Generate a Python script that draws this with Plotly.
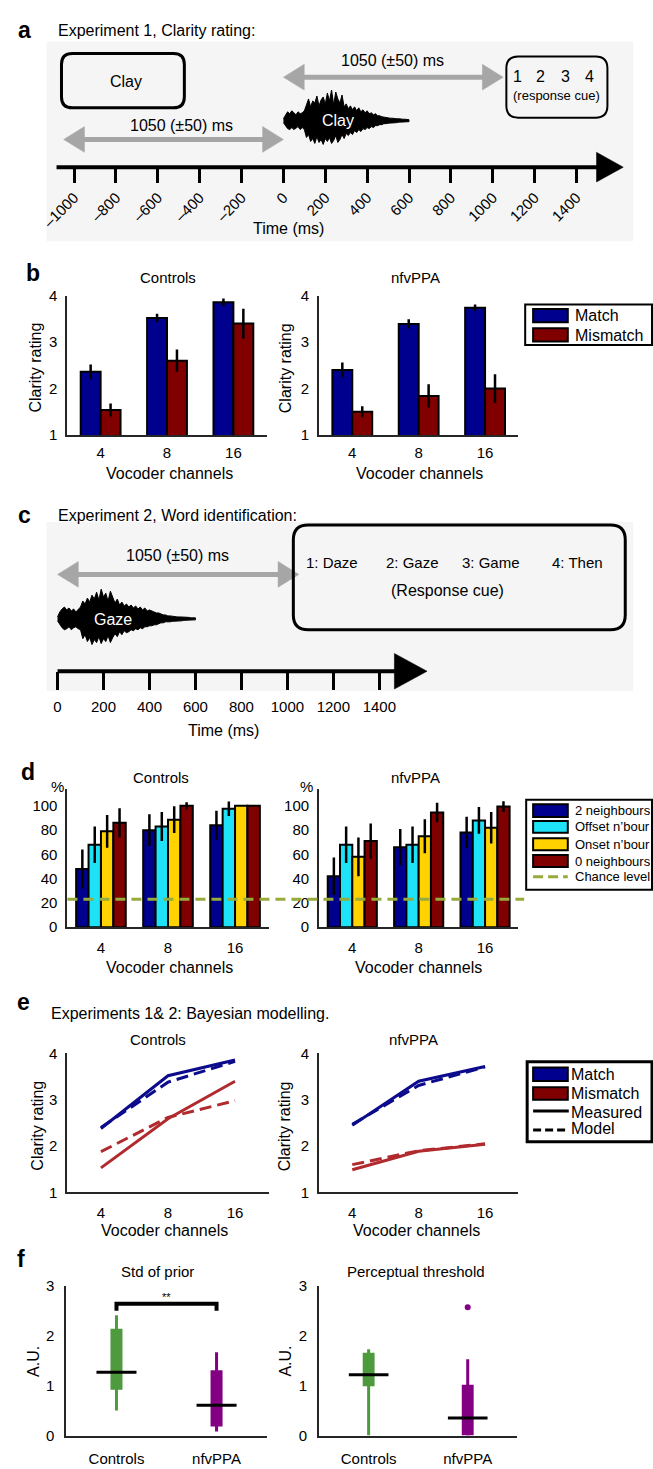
import plotly.graph_objects as go

W, H = 653, 1469
FONT = "Liberation Sans, Arial, Helvetica, sans-serif"

# ======================= DATA =======================
# Panel a / c schematic timelines (ms)
a_tick_ms = [-1000, -800, -600, -400, -200, 0, 200, 400, 600, 800, 1000, 1200, 1400]
a_tick_text = ["–1000", "–800", "–600", "–400", "–200", "0", "200", "400",
               "600", "800", "1000", "1200", "1400"]
c_tick_ms = [0, 200, 400, 600, 800, 1000, 1200, 1400]
c_tick_text = ["0", "200", "400", "600", "800", "1000", "1200", "1400"]
isi_ms = 1050

# sound-wave envelopes (time in ms, amplitude in px)
wave_t = [0, 10, 20, 30, 40, 50, 60, 70, 80, 90, 100,
          110, 120, 130, 140, 150, 160, 170, 180, 190, 200,
          210, 220, 230, 240, 250, 260, 270, 280, 290, 300,
          310, 320, 330, 340, 350, 360, 370, 380, 390, 400,
          410, 420, 430, 440, 450, 460, 470, 480, 490, 500,
          510, 520, 530, 540, 550, 560, 570, 580, 590, 600]
wave_a_up = [2, 6, 9, 7, 10, 8, 6, 9, 7, 8, 10,
             16, 22, 14, 20, 18, 25, 15, 21, 24, 17,
             28, 20, 31, 16, 29, 22, 18, 26, 14, 17,
             12, 15, 11, 14, 10, 13, 9, 11, 8, 10,
             7, 8, 6, 7, 5, 5, 4, 3.5, 3, 3,
             2.5, 2.5, 2, 2, 2, 1.5, 1.5, 1.5, 1, 1]
wave_a_lo = [2, 5, 8, 9, 7, 9, 8, 6, 9, 7, 9,
             17, 14, 21, 18, 23, 16, 22, 19, 24, 18,
             21, 17, 23, 20, 15, 22, 19, 14, 18, 13,
             15, 12, 14, 10, 12, 9, 11, 8, 9, 7,
             8, 6, 7, 5, 5, 4, 4, 3, 3, 2.5,
             2.5, 2, 2, 2, 1.5, 1.5, 1.5, 1, 1, 1]
wave_c_up = [2, 7, 10, 12, 9, 11, 8, 10, 7, 9, 12,
             18, 15, 21, 17, 24, 20, 27, 19, 30, 22,
             26, 18, 28, 21, 16, 20, 14, 17, 13, 15,
             12, 14, 11, 13, 10, 12, 9, 11, 8, 9,
             8, 7, 6, 6, 5, 4, 4, 3, 3, 2.5,
             2.5, 2, 2, 2, 1.5, 1.5, 1.5, 1, 1, 1]
wave_c_lo = [2, 6, 9, 11, 10, 8, 11, 9, 8, 10, 11,
             20, 16, 23, 19, 26, 21, 24, 18, 25, 20,
             23, 17, 24, 19, 15, 18, 13, 16, 12, 14,
             13, 11, 12, 10, 11, 9, 10, 8, 8, 7,
             7, 6, 6, 5, 4, 4, 3, 3, 3, 2.5,
             2.5, 2, 2, 2, 1.5, 1.5, 1.5, 1, 1, 1]

channels = ["4", "8", "16"]

# Panel b: clarity ratings
b_ctrl_match = [2.36, 3.52, 3.86]
b_ctrl_match_err = [0.16, 0.09, 0.08]
b_ctrl_mismatch = [1.54, 2.60, 3.40]
b_ctrl_mismatch_err = [0.14, 0.24, 0.32]
b_ppa_match = [2.40, 3.39, 3.74]
b_ppa_match_err = [0.16, 0.10, 0.07]
b_ppa_mismatch = [1.50, 1.84, 2.00]
b_ppa_mismatch_err = [0.12, 0.25, 0.31]

# Panel d: word identification (%)
d_labels = ["2 neighbours", "Offset n’bour", "Onset n’bour", "0 neighbours"]
d_ctrl_2nb = [48, 80, 84]
d_ctrl_2nb_err = [16, 13, 12]
d_ctrl_offset = [68, 83, 97.6]
d_ctrl_offset_err = [15, 12, 6]
d_ctrl_onset = [79, 88.6, 100]
d_ctrl_onset_err = [13.5, 11, 0]
d_ctrl_0nb = [86, 100, 100]
d_ctrl_0nb_err = [12, 3, 0]
d_ppa_2nb = [42, 66, 78]
d_ppa_2nb_err = [15.5, 15, 13]
d_ppa_offset = [68, 68, 88]
d_ppa_offset_err = [15, 15, 11]
d_ppa_onset = [58, 75, 82]
d_ppa_onset_err = [16, 14, 13]
d_ppa_0nb = [71, 94.6, 99.4]
d_ppa_0nb_err = [14.5, 8, 4.5]
chance_level = 23

# Panel e: Bayesian modelling
e_ctrl_match_meas = [2.38, 3.52, 3.86]
e_ctrl_match_model = [2.40, 3.38, 3.83]
e_ctrl_mismatch_meas = [1.53, 2.59, 3.40]
e_ctrl_mismatch_model = [1.88, 2.62, 2.98]
e_ppa_match_meas = [2.45, 3.40, 3.72]
e_ppa_match_model = [2.47, 3.31, 3.71]
e_ppa_mismatch_meas = [1.49, 1.89, 2.04]
e_ppa_mismatch_model = [1.60, 1.90, 2.05]

# Panel f: parameter distributions (Controls, nfvPPA)
groups = ["Controls", "nfvPPA"]
prior_low = [0.50, 0.08]
prior_q1 = [0.92, 0.18]
prior_med = [1.27, 0.61]
prior_q3 = [2.14, 1.31]
prior_high = [2.41, 1.67]
thr_low = [0.00, 0.00]
thr_q1 = [0.99, 0.00]
thr_med = [1.22, 0.35]
thr_q3 = [1.66, 1.02]
thr_high = [1.73, 1.53]
thr_outlier_ppa = [2.57]
sig_bracket = [2.50, 2.64]

# ======================= STYLE =======================
BLUE, RED = "#00008F", "#800000"
CYAN, YELLOW = "#1EE3F8", "#FFD200"
LBLUE, LRED = "#0B0B8C", "#B02A2E"
GREEN, PURPLE = "#4E9A3E", "#830083"
OLIVE = "#96AB3C"
ARROW = "#A6A6A6"
AXC = "#262626"


def X(px):
    return px / W


def Y(py):
    return 1 - py / H


shapes, annotations = [], []


def ann(text, px, py, size=15, xanchor="center", yanchor="middle", angle=0, color="black"):
    annotations.append(dict(text=text, x=X(px), y=Y(py), xref="paper", yref="paper",
                            showarrow=False, xanchor=xanchor, yanchor=yanchor, textangle=angle,
                            font=dict(size=size, color=color, family=FONT)))


def rect(x0, y0, x1, y1, fill="rgba(0,0,0,0)", lw=2, line="black", layer="above"):
    shapes.append(dict(type="rect", xref="paper", yref="paper", x0=X(x0), x1=X(x1),
                       y0=Y(y1), y1=Y(y0), fillcolor=fill, layer=layer,
                       line=dict(color=line, width=lw)))


def rrect(x0, y0, x1, y1, r, lw):
    p = (f"M{X(x0 + r)},{Y(y0)} L{X(x1 - r)},{Y(y0)} Q{X(x1)},{Y(y0)} {X(x1)},{Y(y0 + r)} "
         f"L{X(x1)},{Y(y1 - r)} Q{X(x1)},{Y(y1)} {X(x1 - r)},{Y(y1)} "
         f"L{X(x0 + r)},{Y(y1)} Q{X(x0)},{Y(y1)} {X(x0)},{Y(y1 - r)} "
         f"L{X(x0)},{Y(y0 + r)} Q{X(x0)},{Y(y0)} {X(x0 + r)},{Y(y0)} Z")
    shapes.append(dict(type="path", xref="paper", yref="paper", path=p,
                       line=dict(color="black", width=lw), fillcolor="rgba(0,0,0,0)"))


def hline(x0, x1, py, color, lw, dash="solid"):
    shapes.append(dict(type="line", xref="paper", yref="paper", x0=X(x0), x1=X(x1),
                       y0=Y(py), y1=Y(py), line=dict(color=color, width=lw, dash=dash)))


def harrow(xref, x0, x1, py, head, half, lw=5, color=ARROW):
    """double-headed arrow: x in data units of xref, y in pixels"""
    shapes.append(dict(type="line", xref=xref, yref="paper", x0=x0 + head * 0.9, x1=x1 - head * 0.9,
                       y0=Y(py), y1=Y(py), line=dict(color=color, width=lw)))
    for xa, xb in ((x0, x0 + head), (x1, x1 - head)):
        shapes.append(dict(type="path", xref=xref, yref="paper",
                           path=f"M{xa},{Y(py)} L{xb},{Y(py - half)} L{xb},{Y(py + half)} Z",
                           fillcolor=color, line=dict(color=color, width=0.5)))


fig = go.Figure()

# ---------------- Panel a ----------------
A0, AS = 280, 0.21125      # px of 0 ms, px per ms
rect(41, 33, 633, 235, fill="#F5F5F5", lw=0, line="rgba(0,0,0,0)", layer="below")
ann("<b>a</b>", 19, 21, size=23)
ann("Experiment 1, Clarity rating:", 50, 22, size=16, xanchor="left")
rrect(56, 45, 180, 100, 11, 3)
ann("Clay", 121, 73, size=16)
rrect(505, 48, 607, 110, 12, 2)
for k, px in enumerate([516, 539, 565, 589]):
    ann(str(k + 1), px, 68, size=16)
ann("(response cue)", 556, 88, size=13)
head_a = 21 / AS
harrow("x", -isi_ms, 0, 132, head_a, 13)
harrow("x", 0, isi_ms, 69, head_a, 13)
ann("1050 (±50) ms", 177, 118, size=16)
ann("1050 (±50) ms", 390, 52, size=16)
# timeline line + arrowhead
shapes.append(dict(type="line", xref="x", yref="paper", x0=(51 - A0) / AS, x1=(598 - A0) / AS,
                   y0=Y(160), y1=Y(160), line=dict(color="black", width=4)))
shapes.append(dict(type="path", xref="x", yref="paper",
                   path=f"M{(596 - A0) / AS},{Y(145)} L{(623 - A0) / AS},{Y(160)} L{(596 - A0) / AS},{Y(175)} Z",
                   fillcolor="black", line=dict(color="black", width=0.5)))
ann("Time (ms)", 285, 222, size=16)

wave_a_center = 47
xs = wave_t + wave_t[::-1]
ys = [wave_a_center + u for u in wave_a_up] + [wave_a_center - l for l in wave_a_lo[::-1]]
fig.add_trace(go.Scatter(x=xs, y=ys, fill="toself", fillcolor="black", mode="lines",
                         line=dict(color="black", width=1), xaxis="x", yaxis="y", hoverinfo="skip"))
ann("Clay", 335, 113, size=16, color="white")

# ---------------- Panel c ----------------
C0, CS = 52, 0.232
rect(41, 519, 633, 690, fill="#F5F5F5", lw=0, line="rgba(0,0,0,0)", layer="below")
ann("<b>c</b>", 19, 512, size=23)
ann("Experiment 2, Word identification:", 50, 512, size=16, xanchor="left")
harrow("x2", 0, isi_ms, 572, 21 / CS, 13)
ann("1050 (±50) ms", 173, 553, size=16)
rrect(290, 522, 625, 628, 15, 3)
for txt, px in zip(["1: Daze", "2: Gaze", "3: Game", "4: Then"], [329, 410, 490, 577]):
    ann(txt, px, 560, size=15)
ann("(Response cue)", 446, 588, size=16)
shapes.append(dict(type="line", xref="x2", yref="paper", x0=0, x1=(394 - C0) / CS,
                   y0=Y(670), y1=Y(670), line=dict(color="black", width=4)))
shapes.append(dict(type="path", xref="x2", yref="paper",
                   path=f"M{(392 - C0) / CS},{Y(652)} L{(425 - C0) / CS},{Y(670)} L{(392 - C0) / CS},{Y(688)} Z",
                   fillcolor="black", line=dict(color="black", width=0.5)))
ann("Time (ms)", 220, 730, size=16)

wave_c_center = 53
ys = [wave_c_center + u for u in wave_c_up] + [wave_c_center - l for l in wave_c_lo[::-1]]
fig.add_trace(go.Scatter(x=xs, y=ys, fill="toself", fillcolor="black", mode="lines",
                         line=dict(color="black", width=1), xaxis="x2", yaxis="y2", hoverinfo="skip"))
ann("Gaze", 108, 618, size=16, color="white")

# ---------------- Panel b ----------------
def bars(vals, errs, color, off, width, ax):
    fig.add_trace(go.Bar(x=[i + 1 + off for i in range(len(vals))], y=vals, width=width,
                         marker=dict(color=color, line=dict(color="black", width=2)),
                         error_y=dict(type="data", array=errs, color="black", thickness=2.5, width=0),
                         xaxis="x" + ax, yaxis="y" + ax, hoverinfo="skip"))


bars(b_ctrl_match, b_ctrl_match_err, BLUE, -0.15, 0.3, "3")
bars(b_ctrl_mismatch, b_ctrl_mismatch_err, RED, 0.15, 0.3, "3")
bars(b_ppa_match, b_ppa_match_err, BLUE, -0.15, 0.3, "4")
bars(b_ppa_mismatch, b_ppa_mismatch_err, RED, 0.15, 0.3, "4")

ann("<b>b</b>", 27, 267, size=23)
for cx, t in ((164, "Controls"), (413, "nfvPPA")):
    ann(t, cx, 272, size=15)
for yx in (30, 282):
    ann("Clarity rating", yx, 363, size=16, angle=-90)
for cx in (165, 417):
    ann("Vocoder channels", cx, 470, size=16)
rect(524, 299, 652, 340, fill="white", lw=2)
rect(532, 303.5, 567, 317, fill=BLUE, lw=2)
rect(532, 323, 567, 336.5, fill=RED, lw=2)
ann("Match", 572, 310, size=16, xanchor="left")
ann("Mismatch", 572, 330, size=16, xanchor="left")

# ---------------- Panel d ----------------
d_off = [-0.2775, -0.0925, 0.0925, 0.2775]
d_cols = [BLUE, CYAN, YELLOW, RED]
for vals, errs, col, off in zip([d_ctrl_2nb, d_ctrl_offset, d_ctrl_onset, d_ctrl_0nb],
                                [d_ctrl_2nb_err, d_ctrl_offset_err, d_ctrl_onset_err, d_ctrl_0nb_err],
                                d_cols, d_off):
    bars(vals, errs, col, off, 0.185, "5")
for vals, errs, col, off in zip([d_ppa_2nb, d_ppa_offset, d_ppa_onset, d_ppa_0nb],
                                [d_ppa_2nb_err, d_ppa_offset_err, d_ppa_onset_err, d_ppa_0nb_err],
                                d_cols, d_off):
    bars(vals, errs, col, off, 0.185, "6")
shapes.append(dict(type="line", xref="paper", yref="y5", x0=X(62), x1=X(523),
                   y0=chance_level, y1=chance_level,
                   line=dict(color=OLIVE, width=3, dash="10px,6px")))
ann("<b>d</b>", 22, 772, size=23)
for cx, t in ((156, "Controls"), (413, "nfvPPA")):
    ann(t, cx, 778, size=15)
for px in (52, 303):
    ann("%", px, 787, size=15)
for cx in (165, 416):
    ann("Vocoder channels", cx, 970, size=16)
rect(525, 800, 652, 891, fill="white", lw=2)
for (y0, y1), col, lab in zip([(804.5, 817.5), (821.5, 833.5), (839, 851), (856, 868)], d_cols, d_labels):
    rect(532, y0, 567, y1, fill=col, lw=2)
    ann(lab, 572, (y0 + y1) / 2, size=13, xanchor="left")
hline(532, 567, 878, OLIVE, 3, dash="10px,5px")
ann("Chance level", 572, 878, size=13, xanchor="left")

# ---------------- Panel e ----------------
def line(vals, color, dash, ax):
    fig.add_trace(go.Scatter(x=[1, 2, 3], y=vals, mode="lines",
                             line=dict(color=color, width=3, dash=dash),
                             xaxis="x" + ax, yaxis="y" + ax, hoverinfo="skip"))


line(e_ctrl_match_model, LBLUE, "12px,6px", "7")
line(e_ctrl_match_meas, LBLUE, "solid", "7")
line(e_ctrl_mismatch_model, LRED, "12px,6px", "7")
line(e_ctrl_mismatch_meas, LRED, "solid", "7")
line(e_ppa_match_model, LBLUE, "12px,6px", "8")
line(e_ppa_match_meas, LBLUE, "solid", "8")
line(e_ppa_mismatch_model, LRED, "12px,6px", "8")
line(e_ppa_mismatch_meas, LRED, "solid", "8")
ann("<b>e</b>", 18, 1005, size=23)
ann("Experiments 1&amp; 2: Bayesian modelling.", 43, 1016, size=16, xanchor="left")
for cx, t in ((153, "Controls"), (411, "nfvPPA")):
    ann(t, cx, 1043, size=15)
for yx in (32, 282):
    ann("Clarity rating", yx, 1130, size=16, angle=-90)
for cx in (160, 414):
    ann("Vocoder channels", cx, 1236, size=16)
rect(526, 1065, 652, 1146, fill="white", lw=3)
rect(532, 1071, 567, 1084.5, fill=BLUE, lw=2)
rect(532, 1091, 567, 1103.5, fill=RED, lw=2)
hline(532, 568, 1115, "black", 3)
hline(532, 568, 1134, "black", 3, dash="8px,4px")
for lab, py in (("Match", 1078), ("Mismatch", 1097.5), ("Measured", 1116.5), ("Model", 1133)):
    ann(lab, 568, py, size=16, xanchor="left")

# ---------------- Panel f ----------------
def boxes(low, q1, med, q3, high, ax):
    xs_ = [1, 2]
    for i, col in enumerate([GREEN, PURPLE]):
        fig.add_trace(go.Scatter(x=[xs_[i], xs_[i]], y=[low[i], high[i]], mode="lines",
                                 line=dict(color=col, width=3), xaxis="x" + ax, yaxis="y" + ax,
                                 hoverinfo="skip"))
    fig.add_trace(go.Bar(x=xs_, y=[b - a for a, b in zip(q1, q3)], base=q1, width=0.12,
                         marker=dict(color=[GREEN, PURPLE], line=dict(width=0)),
                         xaxis="x" + ax, yaxis="y" + ax, hoverinfo="skip"))
    mx, my = [], []
    for i in range(2):
        mx += [xs_[i] - 0.2, xs_[i] + 0.2, None]
        my += [med[i], med[i], None]
    fig.add_trace(go.Scatter(x=mx, y=my, mode="lines", line=dict(color="black", width=3),
                             xaxis="x" + ax, yaxis="y" + ax, hoverinfo="skip"))


boxes(prior_low, prior_q1, prior_med, prior_q3, prior_high, "9")
boxes(thr_low, thr_q1, thr_med, thr_q3, thr_high, "10")
fig.add_trace(go.Scatter(x=[2], y=thr_outlier_ppa, mode="markers",
                         marker=dict(color=PURPLE, size=6), xaxis="x10", yaxis="y10", hoverinfo="skip"))
fig.add_trace(go.Scatter(x=[1, 1, 2, 2], y=[sig_bracket[0], sig_bracket[1], sig_bracket[1], sig_bracket[0]],
                         mode="lines", line=dict(color="black", width=4),
                         xaxis="x9", yaxis="y9", hoverinfo="skip"))
annotations.append(dict(text="**", x=1.5, y=sig_bracket[1] + 0.13, xref="x9", yref="y9",
                        showarrow=False, font=dict(size=11, family=FONT, color="black")))
ann("<b>f</b>", 15, 1265, size=23)
ann("Std of prior", 153, 1277, size=15)
ann("Perceptual threshold", 414, 1277, size=15)
for yx in (27, 282):
    ann("A.U.", yx, 1368, size=16, angle=-90)

# ======================= LAYOUT =======================
layout = dict(width=W, height=H, margin=dict(l=0, r=0, t=0, b=0),
              paper_bgcolor="white", plot_bgcolor="rgba(0,0,0,0)", showlegend=False,
              barmode="overlay", font=dict(family=FONT, size=15, color="black"),
              shapes=shapes, annotations=annotations)

layout["xaxis"] = dict(domain=[X(41), X(633)], range=[(41 - A0) / AS, (633 - A0) / AS], anchor="y",
                       tickmode="array", tickvals=a_tick_ms, ticktext=a_tick_text,
                       ticks="outside", ticklen=15, tickwidth=3, tickcolor="black", tickangle=-45,
                       tickfont=dict(size=15), showline=False, showgrid=False, zeroline=False,
                       fixedrange=True)
layout["yaxis"] = dict(domain=[Y(160), Y(33)], range=[0, 127], visible=False, anchor="x", fixedrange=True)
layout["xaxis2"] = dict(domain=[X(41), X(633)], range=[(41 - C0) / CS, (633 - C0) / CS], anchor="y2",
                        tickmode="array", tickvals=c_tick_ms, ticktext=c_tick_text,
                        ticks="outside", ticklen=18, tickwidth=3, tickcolor="black",
                        tickfont=dict(size=15), ticklabelstandoff=4, showline=False, showgrid=False,
                        zeroline=False, fixedrange=True)
layout["yaxis2"] = dict(domain=[Y(670), Y(520)], range=[0, 150], visible=False, anchor="x2", fixedrange=True)


def data_axes(i, xpx, ypx, yrange, ytickvals, xrange, xticktext, xstand, ystand=5):
    layout[f"xaxis{i}"] = dict(domain=[X(xpx[0]), X(xpx[1])], range=xrange, anchor=f"y{i}",
                               showline=True, linecolor=AXC, linewidth=2, ticks="", showgrid=False,
                               zeroline=False, tickmode="array",
                               tickvals=list(range(1, len(xticktext) + 1)), ticktext=xticktext,
                               tickfont=dict(size=15), ticklabelstandoff=xstand, fixedrange=True)
    layout[f"yaxis{i}"] = dict(domain=[Y(ypx[1]), Y(ypx[0])], range=yrange, anchor=f"x{i}",
                               showline=True, linecolor=AXC, linewidth=2, ticks="", showgrid=False,
                               zeroline=False, tickmode="array", tickvals=ytickvals,
                               tickfont=dict(size=15), ticklabelstandoff=ystand, fixedrange=True)


data_axes(3, (62, 263), (290, 431), [1, 4], [1, 2, 3, 4], [0.5, 3.5], channels, 3)
data_axes(4, (316, 517), (290, 431), [1, 4], [1, 2, 3, 4], [0.5, 3.5], channels, 3)
data_axes(5, (62, 265), (789, 929), [0, 114], [0, 20, 40, 60, 80, 100], [0.5, 3.5], channels, 6)
data_axes(6, (316, 517), (789, 929), [0, 114], [0, 20, 40, 60, 80, 100], [0.5, 3.5], channels, 6)
data_axes(7, (62, 265), (1056.7, 1197.3), [1, 4], [1, 2, 3, 4], [0.5, 3.5], channels, 6)
data_axes(8, (316, 517), (1056.7, 1197.3), [1, 4], [1, 2, 3, 4], [0.5, 3.5], channels, 6)
data_axes(9, (61, 263), (1291.7, 1443.3), [0, 3], [0, 1, 2, 3], [0.5, 2.5], groups, 8, 7)
data_axes(10, (316, 516), (1291.7, 1443.3), [0, 3], [0, 1, 2, 3], [0.5, 2.5], groups, 8, 7)

fig.update_layout(**layout)
fig.write_html("out.html")
